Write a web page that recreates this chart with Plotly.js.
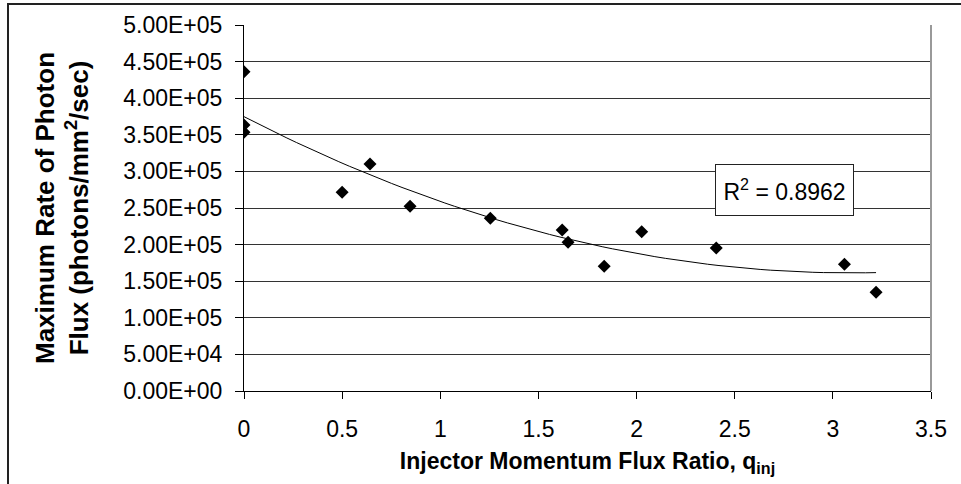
<!DOCTYPE html>
<html>
<head>
<meta charset="utf-8">
<script src="https://cdn.plot.ly/plotly-3.0.1.min.js"></script>
<style>
html,body{margin:0;padding:0;background:#fff;}
#chart{width:961px;height:484px;}
</style>
</head>
<body>
<div id="chart"></div>
<script>
// Injector momentum flux ratio q_inj
var qInj = [0, 0, 0, 0.50, 0.642, 0.846, 1.255, 1.621, 1.651, 1.835, 2.026, 2.406, 3.059, 3.220];
// Maximum rate of photon flux (photons/mm^2/sec)
var photonFlux = [436200, 363400, 353400, 271400, 310000, 252300, 235900, 219900, 203100, 170300, 217600, 195400, 173100, 134800];
var yTickVals = [0, 50000, 100000, 150000, 200000, 250000, 300000, 350000, 400000, 450000, 500000];
var yTickLabels = ["0.00E+00","5.00E+04","1.00E+05","1.50E+05","2.00E+05","2.50E+05","3.00E+05","3.50E+05","4.00E+05","4.50E+05","5.00E+05"];
var xTickVals = [0, 0.5, 1, 1.5, 2, 2.5, 3, 3.5];
var xTickLabels = ["0","0.5","1","1.5","2","2.5","3","3.5"];
var rSquaredText = "R<sup>2</sup> = 0.8962";

// second-order polynomial least-squares trendline computed from the data
function polyFit2(xs, ys) {
  var S = [0,0,0,0,0], T = [0,0,0];
  for (var i = 0; i < xs.length; i++) {
    var p = 1;
    for (var k = 0; k < 5; k++) { S[k] += p; if (k < 3) T[k] += p * ys[i]; p *= xs[i]; }
  }
  var A = [[S[0],S[1],S[2],T[0]],[S[1],S[2],S[3],T[1]],[S[2],S[3],S[4],T[2]]];
  for (var c = 0; c < 3; c++) {
    for (var r = c + 1; r < 3; r++) {
      var f = A[r][c] / A[c][c];
      for (var j = c; j < 4; j++) A[r][j] -= f * A[c][j];
    }
  }
  var sol = [0,0,0];
  for (var r2 = 2; r2 >= 0; r2--) {
    var s = A[r2][3];
    for (var j2 = r2 + 1; j2 < 3; j2++) s -= A[r2][j2] * sol[j2];
    sol[r2] = s / A[r2][r2];
  }
  return sol;
}
var coef = polyFit2(qInj, photonFlux);
var xMin = Math.min.apply(null, qInj), xMax = Math.max.apply(null, qInj);
var trendX = [], trendY = [];
for (var n = 0; n <= 60; n++) {
  var xv = xMin + (xMax - xMin) * n / 60;
  trendX.push(xv);
  trendY.push(coef[0] + coef[1] * xv + coef[2] * xv * xv);
}

var FONT = '"Liberation Sans", Arial, sans-serif';
var L = 244, R = 931, T = 25, B = 391;
function px2paperX(p) { return (p - L) / (R - L); }
function px2paperY(p) { return (B - p) / (B - T); }

var data = [
  { x: trendX, y: trendY, type: 'scatter', mode: 'lines', line: {color: '#000', width: 1}, hoverinfo: 'skip', showlegend: false },
  { x: qInj, y: photonFlux, type: 'scatter', mode: 'markers',
    marker: {symbol: 'diamond', size: 10, color: '#000', line: {width: 0}}, showlegend: false }
];

var layout = {
  width: 961, height: 484,
  margin: {l: L, r: 961 - R, t: T, b: 484 - B, pad: 0},
  paper_bgcolor: '#fff', plot_bgcolor: '#fff',
  font: {family: FONT, color: '#000', size: 23},
  showlegend: false,
  xaxis: {
    range: [0, 3.5], tickvals: xTickVals, ticktext: xTickLabels,
    showgrid: false, zeroline: false,
    showline: true, linecolor: '#000', linewidth: 1,
    ticks: 'outside', ticklen: 7, tickcolor: '#000', tickwidth: 1,
    ticklabelstandoff: 10,
    tickfont: {family: FONT, size: 23, color: '#000'},
    title: {text: 'Injector Momentum Flux Ratio, q<sub>inj</sub>', font: {family: FONT, size: 23, color: '#000', weight: 'bold'}, standoff: 12}
  },
  yaxis: {
    range: [0, 500000], tickvals: yTickVals, ticktext: yTickLabels,
    showgrid: true, gridcolor: '#333', gridwidth: 1, zeroline: false,
    showline: true, linecolor: '#000', linewidth: 1,
    ticks: 'outside', ticklen: 8, tickcolor: '#000', tickwidth: 1,
    ticklabelstandoff: 8,
    tickfont: {family: FONT, size: 23, color: '#000'},
    title: {text: 'Maximum Rate of Photon<br>Flux (photons/mm<sup>2</sup>/sec)', font: {family: FONT, size: 26, color: '#000', weight: 'bold'}, standoff: 27}
  },
  shapes: [
    {type: 'line', xref: 'paper', yref: 'paper', x0: 1, x1: 1, y0: 0, y1: 1, line: {color: '#999', width: 2}},
    {type: 'rect', xref: 'paper', yref: 'paper', x0: px2paperX(8), x1: px2paperX(975), y0: px2paperY(4), y1: px2paperY(500), line: {color: '#222', width: 2}, fillcolor: 'rgba(0,0,0,0)', layer: 'above'}
  ],
  annotations: [
    {text: rSquaredText, xref: 'paper', yref: 'paper', x: px2paperX(784), y: px2paperY(190), xanchor: 'center', yanchor: 'middle',
     showarrow: false, font: {family: FONT, size: 23, color: '#000'}, bgcolor: '#fff', bordercolor: '#222', borderwidth: 1, borderpad: 1, width: 135, height: 48}
  ]
};

Plotly.newPlot('chart', data, layout, {displayModeBar: false, staticPlot: true});
</script>
</body>
</html>
